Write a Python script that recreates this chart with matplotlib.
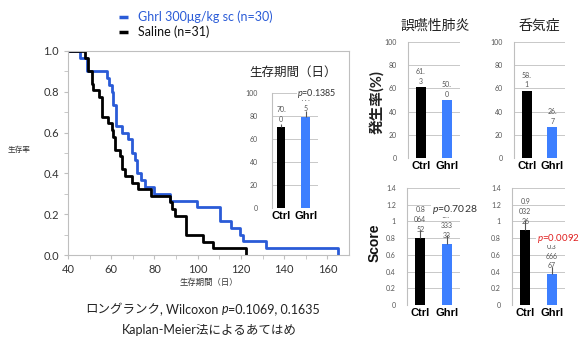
import numpy as np
import matplotlib
matplotlib.use('Agg')
import matplotlib.pyplot as plt

plt.rcParams['font.family'] = ['Lato', 'Noto Sans CJK JP', 'DejaVu Sans']
plt.rcParams['mathtext.fontset'] = 'custom'
plt.rcParams['mathtext.it'] = 'Lato:italic'
plt.rcParams['mathtext.rm'] = 'Lato'

# Kaplan-Meier death days
saline_days = [47.8, 49.4, 49.4, 51.0, 51.0, 51.7, 54.5, 55.5, 55.5, 55.5,
               58.6, 60.2, 61.0, 61.7, 61.7, 64.0, 64.8, 64.8, 66.3, 69.4,
               72.4, 78.6, 87.0, 88.0, 89.4, 94.5, 94.5, 94.5, 102.4, 107.0,
               122.3]
ghrl_days = [45.5, 48.6, 48.6, 57.9, 59.0, 60.2, 60.9, 60.9, 62.1, 62.1,
             62.1, 64.8, 67.8, 69.4, 69.4, 71.0, 72.0, 72.0, 74.0, 75.5,
             79.7, 87.0, 99.5, 110.2, 110.2, 115.2, 119.4, 121.0, 131.5, 164.8]
n_saline = 31
n_ghrl = 30

groups = ['Ctrl', 'Ghrl']
survival_mean = [70.0, 79.5]
survival_err = [3.0, 5.0]
survival_labels = ['70.\n0', '79.\n5']
pneumonia = [61.3, 50.0]
pneumonia_labels = ['61.\n3', '50.\n0']
aerophagia = [58.1, 26.7]
aerophagia_labels = ['58.\n1', '26.\n7']
score_pneu = [0.806452, 0.733333]
score_pneu_err = [0.09, 0.10]
score_pneu_labels = ['0.8\n064\n52', '0.7\n333\n33']
score_aero = [0.903226, 0.366667]
score_aero_err = [0.11, 0.09]
score_aero_labels = ['0.9\n032\n26', '0.3\n666\n67']

BLACK = '#000000'
BLUE_LINE = '#2a5bd7'
BLUE_BAR = '#3d7fff'
GREY = '#bfbfbf'
W, H = 583, 339

fig = plt.figure(figsize=(W / 100, H / 100), dpi=100)


def rect(left, top, right, bottom):
    return [left / W, 1 - bottom / H, (right - left) / W, (bottom - top) / H]


def km_steps(days, n, start=41):
    uniq, counts = np.unique(np.sort(days), return_counts=True)
    surv = 1 - np.cumsum(counts) / n
    return np.concatenate([[start], uniq]), np.concatenate([[1.0], surv])


# main Kaplan-Meier plot
ax = fig.add_axes(rect(68, 51, 349, 255))
for days, n, c in [(ghrl_days, n_ghrl, BLUE_LINE), (saline_days, n_saline, BLACK)]:
    xs, ys = km_steps(days, n)
    ax.step(xs, ys, where='post', color=c, lw=2)
ax.set_xlim(40, 170)
ax.set_ylim(0, 1)
ax.set_xticks(range(40, 161, 20))
ax.set_xticks(range(50, 170, 20), minor=True)
ax.set_yticks(np.arange(0, 1.01, 0.2))
ax.set_yticks(np.arange(0.1, 1.0, 0.2), minor=True)
ax.yaxis.set_major_formatter(matplotlib.ticker.FormatStrFormatter('%.1f'))
for s in ax.spines.values():
    s.set_color(GREY)
    s.set_linewidth(0.8)
ax.tick_params(which='both', colors=GREY, labelcolor='#333333', labelsize=8, length=3)
ax.set_xlabel('生存期間（日）', fontsize=6, color='#333333', labelpad=2)
ax.set_ylabel('生存率', fontsize=5.5, color='#333333', rotation=0)
ax.yaxis.set_label_coords(-0.175, 0.5)


def bar_panel(box, values, labels, ylim, yticks, tick_fmt, err=None, label_pad=0.0,
              xlim=(-0.5, 1.5), width=0.38, show_x=True):
    a = fig.add_axes(rect(*box))
    a.bar([0, 1], values, width=width, color=[BLACK, BLUE_BAR], zorder=3)
    if err is not None:
        a.errorbar([0, 1], values, yerr=[[0, 0], err], fmt='none', ecolor='#555555',
                   elinewidth=0.8, capsize=0, zorder=4)
    for i, (v, lab) in enumerate(zip(values, labels)):
        a.text(i, v + label_pad, lab, ha='center', va='bottom', fontsize=5,
               color='#555555', linespacing=1.45, zorder=5)
    a.set_xlim(*xlim)
    a.set_ylim(*ylim)
    a.set_yticks(yticks)
    a.set_yticklabels([tick_fmt(t) for t in yticks])
    a.grid(axis='y', color=GREY, lw=0.6, zorder=0)
    for k in ['top', 'right', 'bottom']:
        a.spines[k].set_visible(False)
    a.spines['left'].set_color(GREY)
    a.spines['left'].set_linewidth(0.8)
    a.tick_params(axis='y', length=0, labelsize=5, labelcolor='#555555', pad=8)
    a.set_xticks([0, 1])
    if show_x:
        a.set_xticklabels(groups, fontsize=8, fontweight='bold', family='Liberation Sans')
    else:
        a.set_xticklabels([])
    a.tick_params(axis='x', length=0, pad=2)
    a.patch.set_alpha(0)
    return a


def int_fmt(t):
    return '%d' % t


def score_fmt(t):
    return '0' if t == 0 else ('1' if t == 1 else '%.1f' % t)


# inset: survival days
ins = bar_panel((271.7, 93, 318, 208), survival_mean, survival_labels, (0, 100),
                [0, 20, 40, 60, 80, 100], int_fmt, err=survival_err, label_pad=4.0,
                xlim=(-0.38, 1.5), width=0.35)
ins.tick_params(axis='y', pad=10)
ins.text(2.27, 100, '$p$=0.1385', ha='right', va='center', fontsize=6.5, color='#333333',
         zorder=6, clip_on=False, bbox=dict(facecolor='white', edgecolor='none', pad=0.5))

# right panels
tl = bar_panel((408, 42, 460, 158), pneumonia, pneumonia_labels, (0, 100),
               [0, 20, 40, 60, 80, 100], int_fmt, label_pad=2.0)
tr = bar_panel((514, 42, 565, 158), aerophagia, aerophagia_labels, (0, 100),
               [0, 20, 40, 60, 80, 100], int_fmt, label_pad=2.0)
bl = bar_panel((407, 188, 460, 305), score_pneu, score_pneu_labels, (0, 1.4),
               [0, 0.2, 0.4, 0.6, 0.8, 1.0, 1.2, 1.4], score_fmt, err=score_pneu_err,
               label_pad=0.06)
br = bar_panel((512, 188, 565, 305), score_aero, score_aero_labels, (0, 1.4),
               [0, 0.2, 0.4, 0.6, 0.8, 1.0, 1.2, 1.4], score_fmt, err=score_aero_err,
               label_pad=0.06)
bl.text(0.44, 1.14, '$p$=0.7028', ha='left', va='center', fontsize=7.5, color='#333333',
        zorder=6, clip_on=False, bbox=dict(facecolor='white', edgecolor='none', pad=0.5))
br.text(0.44, 0.8, '$p$=0.0092', ha='left', va='center', fontsize=7, color='#e02020',
        zorder=6, clip_on=False, bbox=dict(facecolor='white', edgecolor='none', pad=0.5))

# overlay for free text in pixel coordinates
ov = fig.add_axes([0, 0, 1, 1])
ov.set_xlim(0, W)
ov.set_ylim(H, 0)
ov.axis('off')
ov.patch.set_alpha(0)

ov.plot([119, 128], [17, 17], color=BLUE_LINE, lw=2.5, solid_capstyle='butt')
ov.plot([119, 128], [32, 32], color=BLACK, lw=2.5, solid_capstyle='butt')
ov.text(138, 17, 'Ghrl 300μg/kg sc (n=30)', fontsize=9, color=BLUE_LINE, va='center')
ov.text(138, 32, 'Saline (n=31)', fontsize=9, color='#111111', va='center')

ov.text(293, 72, '生存期間（日）', fontsize=9, ha='center', va='center', color='#222222')
ov.text(435, 25, '誤嚥性肺炎', fontsize=10, ha='center', va='center', color='#222222')
ov.text(539, 25, '呑気症', fontsize=10, ha='center', va='center', color='#222222')
ov.text(377, 102, '発生率(%)', fontsize=10.5, ha='center', va='center', rotation=90,
        color='#222222', fontweight='bold')
ov.text(375, 243, 'Score', fontsize=10, ha='center', va='center', rotation=90,
        fontweight='bold', family='Liberation Sans', color='#111111')

# bottom caption, built piece by piece
pieces = [('ロングランク', 'italic'), (', Wilcoxon ', 'normal'), ('p', 'italic'),
          ('=0.1069, 0.1635', 'normal')]
prev = ov.text(85, 309, pieces[0][0], fontsize=9, style=pieces[0][1], va='center',
               color='#222222')
for txt, st in pieces[1:]:
    prev = ov.annotate(txt, xy=(1, 0), xycoords=prev, va='bottom', ha='left',
                       fontsize=9, style=st, color='#222222')
ov.text(209, 330, 'Kaplan-Meier法によるあてはめ', fontsize=9, ha='center', va='center',
        color='#222222')

fig.savefig('out.png', dpi=100)
